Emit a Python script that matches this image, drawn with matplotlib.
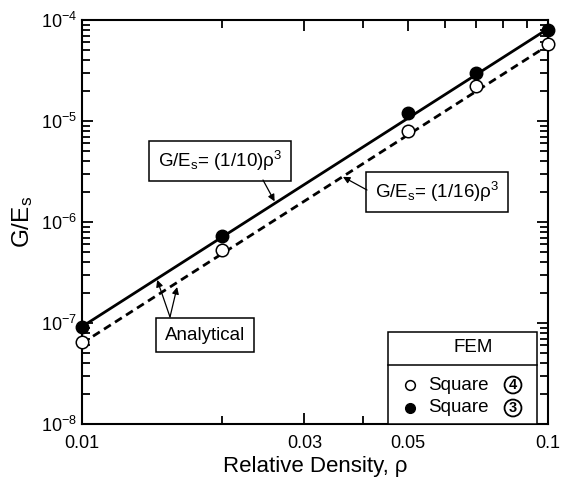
import matplotlib
matplotlib.use("Agg")
import matplotlib.pyplot as plt
from matplotlib.ticker import FixedLocator, NullFormatter, LogLocator

plt.rcParams['font.family'] = ['Liberation Sans', 'DejaVu Sans']
plt.rcParams['mathtext.fontset'] = 'custom'
plt.rcParams['mathtext.rm'] = 'Liberation Sans'
plt.rcParams['mathtext.it'] = 'Liberation Sans:italic'

# data
rho_fem = [0.01, 0.02, 0.05, 0.07, 0.1]
sq4 = [6.5e-8, 5.3e-7, 8.0e-6, 2.2e-5, 5.8e-5]   # open circles
sq3 = [9.2e-8, 7.3e-7, 1.2e-5, 3.0e-5, 8.0e-5]   # filled circles

rho_line = [0.01, 0.1]
line_10 = [9.2e-8, 8.2e-5]
line_16 = [6.3e-8, 5.6e-5]

xticks = [0.01, 0.03, 0.05, 0.1]
xticklabels = ["0.01", "0.03", "0.05", "0.1"]
yticks = [1e-8, 1e-7, 1e-6, 1e-5, 1e-4]
yticklabels = ["10$^{-8}$", "10$^{-7}$", "10$^{-6}$", "10$^{-5}$", "10$^{-4}$"]

W, H = 564, 488


def fpx(x, y):
    # figure pixel (from top-left) -> figure fraction
    return (x / W, 1 - y / H)


fig = plt.figure(figsize=(W / 100, H / 100), dpi=100)
ax = fig.add_axes([82 / W, 64 / H, 466 / W, 404 / H])

ax.plot(rho_line, line_10, color="black", lw=2.0, zorder=2)
ax.plot(rho_line, line_16, color="black", lw=2.0, ls=(0, (2.9, 1.8)), zorder=2)
ax.plot(rho_fem, sq4, "o", ms=9, mfc="white", mec="black", mew=1.1, zorder=3, clip_on=False)
ax.plot(rho_fem, sq3, "o", ms=9, mfc="black", mec="black", zorder=3, clip_on=False)

ax.set_xscale("log")
ax.set_yscale("log")
ax.set_xlim(0.01, 0.1)
ax.set_ylim(1e-8, 1e-4)

ax.xaxis.set_major_locator(FixedLocator(xticks))
ax.set_xticklabels(xticklabels)
ax.xaxis.set_minor_locator(FixedLocator([0.02, 0.04, 0.06, 0.07, 0.08, 0.09]))
ax.xaxis.set_minor_formatter(NullFormatter())
ax.yaxis.set_major_locator(FixedLocator(yticks))
ax.set_yticklabels(yticklabels)
ax.yaxis.set_minor_locator(LogLocator(base=10, subs=range(2, 10)))
ax.yaxis.set_minor_formatter(NullFormatter())

ax.tick_params(which="both", direction="in", top=True, right=True, width=1.3, labelsize=13, colors="black")
ax.tick_params(which="major", length=8)
ax.tick_params(which="minor", length=5.5)
ax.tick_params(axis="x", pad=8)
for s in ax.spines.values():
    s.set_linewidth(1.5)

ax.set_xlabel("Relative Density, ρ", fontsize=16, labelpad=3)
ax.set_ylabel("G/E$_{\\rm s}$", fontsize=17.5, labelpad=4)

box = dict(boxstyle="square,pad=0.45", fc="white", ec="black", lw=1.1)
arrow = dict(arrowstyle="-|>", color="black", lw=0.9, mutation_scale=10, shrinkA=0, shrinkB=0)

ax.annotate("G/E$_{\\rm s}$= (1/10)ρ$^3$", xy=(0.0259, 1.6e-6), xytext=fpx(220, 161),
            textcoords="figure fraction", fontsize=13.5, ha="center", va="center", bbox=box)
ax.annotate("", xy=(0.0259, 1.6e-6), xytext=fpx(263, 180), textcoords="figure fraction", arrowprops=arrow)
ax.annotate("G/E$_{\\rm s}$= (1/16)ρ$^3$", xy=(0.0363, 2.8e-6), xytext=fpx(437, 192),
            textcoords="figure fraction", fontsize=13.5, ha="center", va="center", bbox=box)
ax.annotate("", xy=(0.0363, 2.8e-6), xytext=fpx(367, 190), textcoords="figure fraction", arrowprops=arrow)
ax.annotate("Analytical", xy=(0.0145, 2.67e-7), xytext=fpx(205, 335),
            textcoords="figure fraction", fontsize=13.5, ha="center", va="center", bbox=box)
ax.annotate("", xy=(0.0145, 2.67e-7), xytext=fpx(170, 317), textcoords="figure fraction", arrowprops=arrow)
ax.annotate("", xy=(0.016, 2.27e-7), xytext=fpx(170, 317), textcoords="figure fraction", arrowprops=arrow)

# FEM legend box
lx0, lx1 = 388 / W, 537 / W
ly0, ly1, lmid = 64 / H, 156 / H, 123 / H
fig.patches.append(plt.Rectangle((lx0, ly0), lx1 - lx0, ly1 - ly0, transform=fig.transFigure,
                                 fc="white", ec="black", lw=1.1, zorder=5))
fig.lines.append(plt.Line2D([lx0, lx1], [lmid, lmid], transform=fig.transFigure, color="black", lw=1.1, zorder=6))
fig.text(*fpx(473, 348), "FEM", ha="center", va="center", fontsize=13.5, zorder=7)
fig.lines.append(plt.Line2D([410 / W], [1 - 385 / H], transform=fig.transFigure, marker="o", ms=7,
                            mfc="white", mec="black", mew=1.1, zorder=7))
fig.lines.append(plt.Line2D([410 / W], [1 - 408 / H], transform=fig.transFigure, marker="o", ms=7,
                            mfc="black", mec="black", zorder=7))
fig.text(*fpx(428, 385), "Square", ha="left", va="center", fontsize=13.5, zorder=7)
fig.text(*fpx(428, 408), "Square", ha="left", va="center", fontsize=13.5, zorder=7)
circ = dict(boxstyle="circle,pad=0.1", fc="white", ec="black", lw=1.3)
fig.text(*fpx(513, 385), "4", ha="center", va="center", fontsize=10.5, fontweight="bold", bbox=circ, zorder=8)
fig.text(*fpx(513, 408), "3", ha="center", va="center", fontsize=10.5, fontweight="bold", bbox=circ, zorder=8)

fig.savefig("out.png", dpi=100)
